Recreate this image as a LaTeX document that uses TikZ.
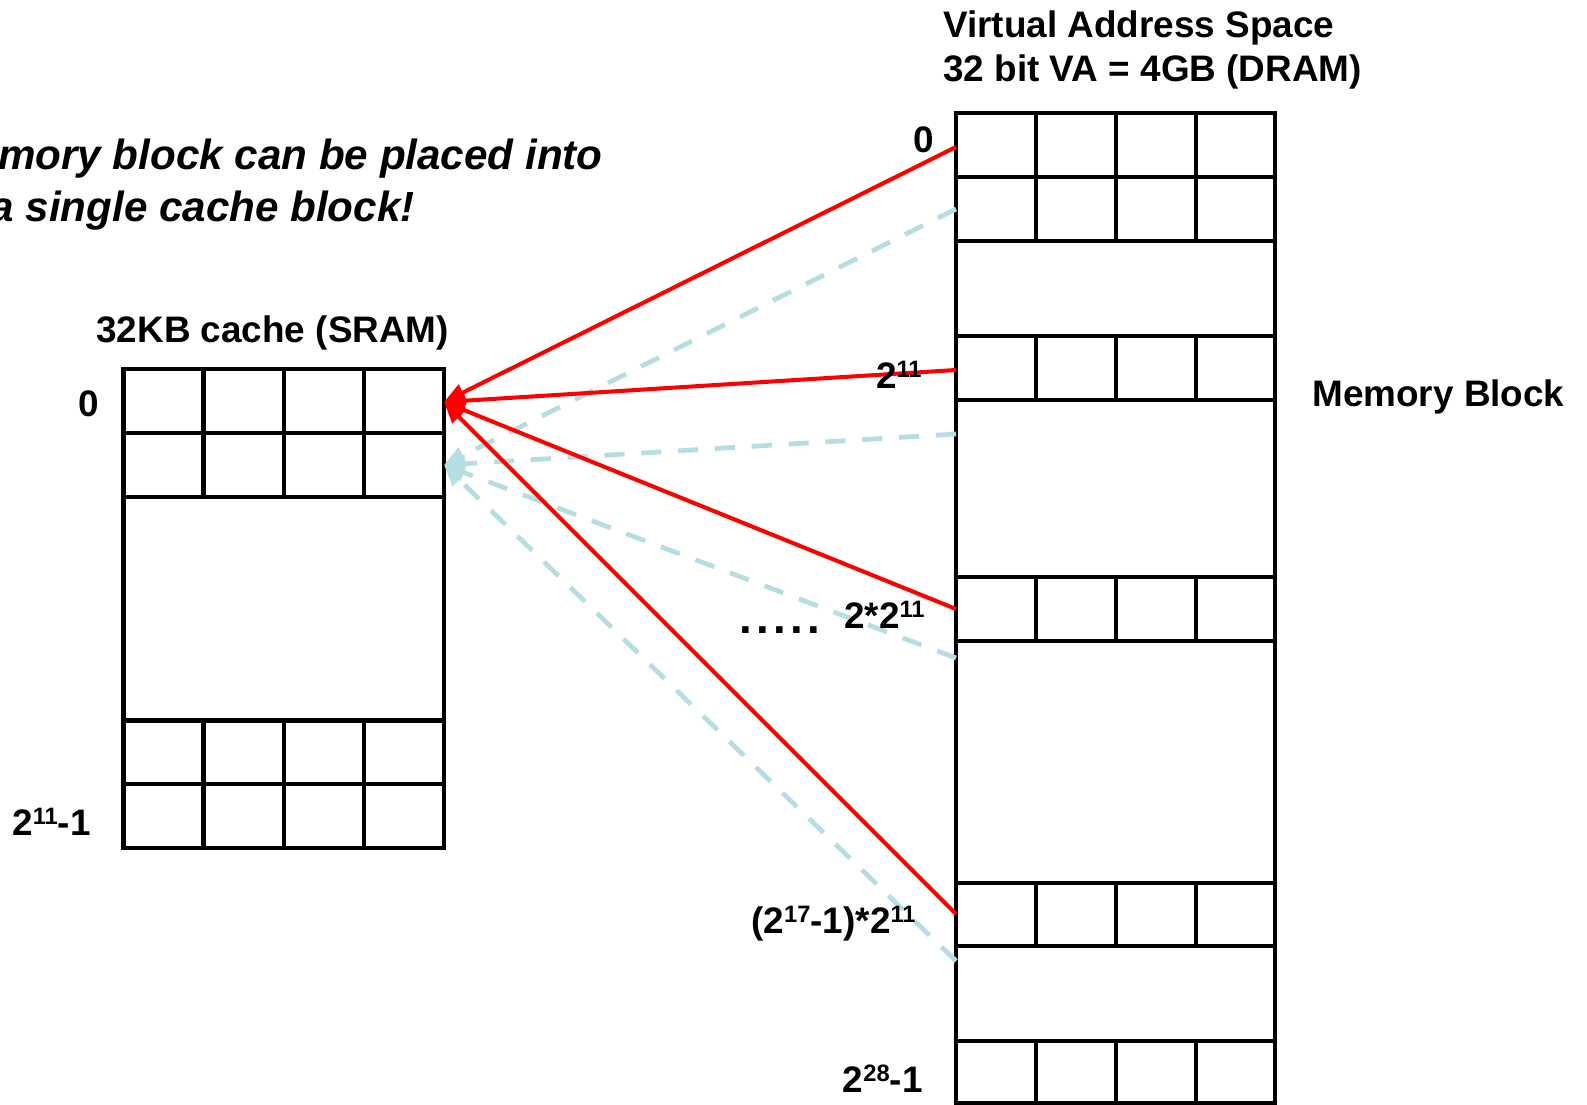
\documentclass[tikz,border=0pt]{standalone}
\usepackage{fontspec}
\setmainfont{Liberation Sans}
\usetikzlibrary{arrows.meta}
\definecolor{missblue}{RGB}{182,222,226}
\newcommand{\pw}[1]{\raisebox{6.2pt}{\fontsize{13.5}{13.5}\selectfont #1}}

\tikzset{
  cellline/.style={line width=2.8pt},
  lbl/.style={font=\fontsize{21}{25}\selectfont\bfseries, inner sep=0pt},
  hit/.style={red, line width=2.3pt, -{Triangle[length=12pt,width=10pt]}},
  miss/.style={missblue, line width=2.7pt, dash pattern=on 11.5pt off 9.5pt, -{Triangle[length=12pt,width=10pt]}},
}

\begin{document}
\begin{tikzpicture}[x=0.02cm, y=-0.02cm]
\useasboundingbox (0,0) rectangle (1587,1105);

% cache
\draw[cellline] (123.5,369) rectangle (444,848);
\foreach \y in {433,497,720.5,784} \draw[cellline] (123.5,\y) -- (444,\y);
\foreach \x in {203.5,284,364} {
  \draw[cellline] (\x,369) -- (\x,497);
  \draw[cellline] (\x,720.5) -- (\x,848);
}

% memory
\draw[cellline] (956,113) rectangle (1275,1103);
\foreach \y in {177,241,336,400,577,641,883,946,1041} \draw[cellline] (956,\y) -- (1275,\y);
\foreach \x in {1036,1116,1196}
  \foreach \a/\b in {113/241,336/400,577/641,883/946,1041/1103}
    \draw[cellline] (\x,\a) -- (\x,\b);

% end points
\coordinate (cache0) at (444,402);
\coordinate (cache1) at (444,465);
\coordinate (blkA) at (956,147);
\coordinate (blkB) at (956,370);
\coordinate (blkC) at (956,609);
\coordinate (blkD) at (956,914);
\coordinate (nxtA) at (956,209);
\coordinate (nxtB) at (956,434);
\coordinate (nxtC) at (956,658);
\coordinate (nxtD) at (956,961);

\foreach \m in {nxtA,nxtB,nxtC,nxtD} \draw[miss] (\m) -- (cache1);
\foreach \m in {blkA,blkB,blkC,blkD} \draw[hit] (\m) -- (cache0);

% labels
\node[font=\fontsize{24}{28}\selectfont\bfseries\itshape, inner sep=0pt, anchor=base east] (note1) at (603,170) {mory block can be placed into};
\node[font=\fontsize{24}{28}\selectfont\bfseries\itshape, inner sep=0pt, anchor=base east] (note2) at (415,221) {a single cache block!};

\node[lbl, anchor=base west] (ctitle) at (96,342) {32KB cache (SRAM)};
\node[lbl, anchor=base east] (cfirst) at (99,416) {0};
\node[lbl, anchor=base east] (clast) at (91,835) {2\pw{11}-1};

\node[lbl, anchor=base west] (vtitle) at (943,37.5) {Virtual Address Space};
\node[lbl, anchor=base west] (vsize) at (943,82) {32 bit VA = 4GB (DRAM)};
\node[lbl, anchor=base east] (mfirst) at (934,153) {0};
\node[lbl, anchor=base east] (msecond) at (922,388) {2\pw{11}};
\node[lbl, anchor=base east] (mthird) at (925,628) {2*2\pw{11}};
\node[lbl, font=\fontsize{26}{30}\selectfont\bfseries, anchor=base west] (mdots) at (739,633) {\addfontfeature{LetterSpace=9.4}.....};
\node[lbl, anchor=base east] (mprev) at (916,933) {(2\pw{17}-1)*2\pw{11}};
\node[lbl, anchor=base east] (mlast) at (923,1092) {2\pw{28}-1};
\node[lbl, anchor=base west] (mblock) at (1312,406) {Memory Block};
\end{tikzpicture}
\end{document}
